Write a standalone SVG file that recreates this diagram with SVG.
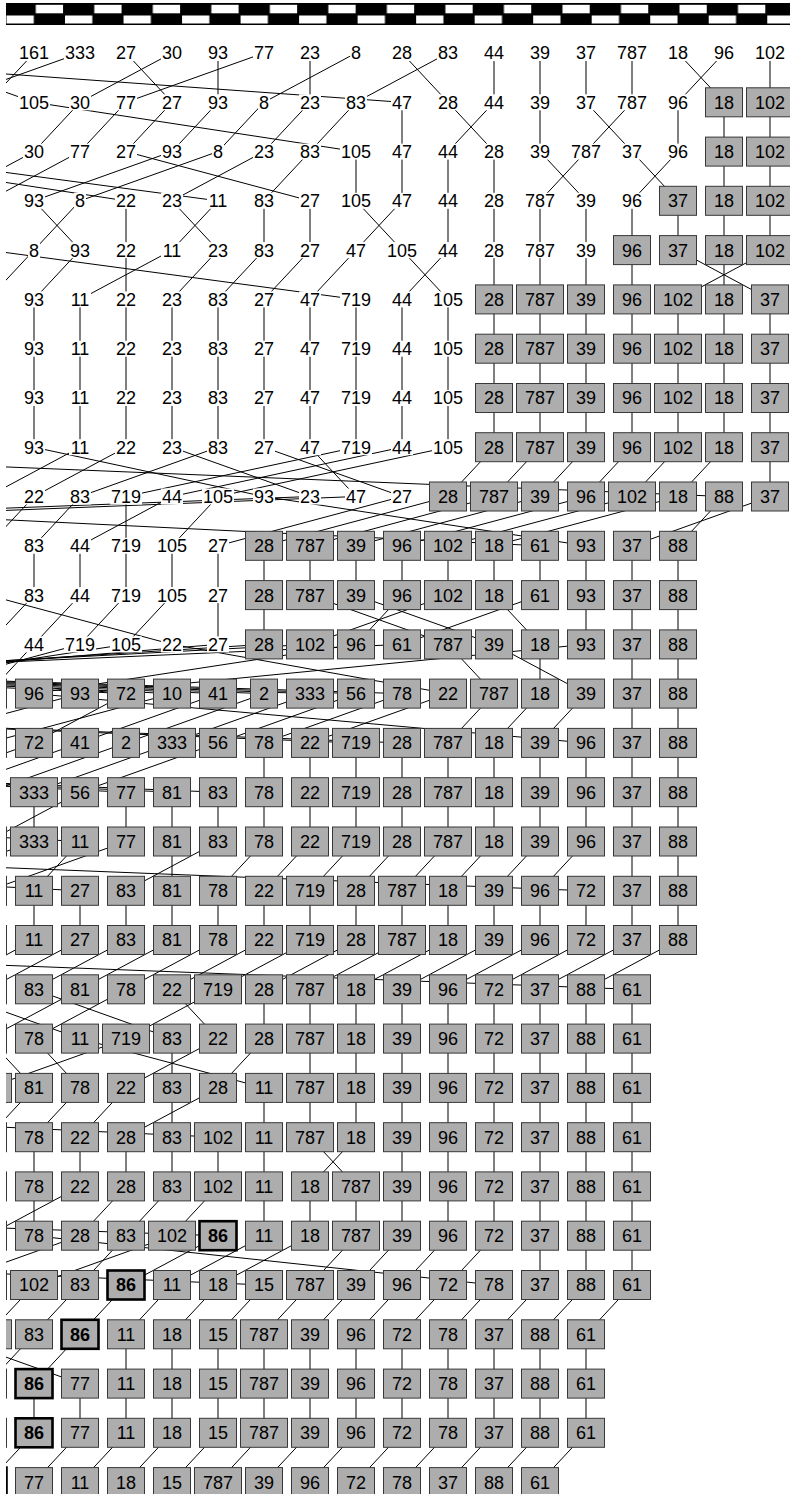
<svg xmlns="http://www.w3.org/2000/svg" xmlns:xlink="http://www.w3.org/1999/xlink" width="790" height="1494" viewBox="0 0 790 1494">
<style>
text{font-family:"Liberation Sans",Arial,sans-serif;font-size:18px;text-anchor:middle;fill:#000}
.n use{fill:#adadad;stroke:#383838;stroke-width:1}
.k use{stroke:#000;stroke-width:2.6}
.k text{font-weight:bold}
.p use{fill:#fff;stroke:none}
#E path{stroke:#000;stroke-width:1;fill:none;vector-effect:non-scaling-stroke}
</style>
<defs>
<rect id="b1" x="-13.5" y="-14.5" width="27" height="29"/>
<rect id="b2" x="-18.5" y="-14.5" width="37" height="29"/>
<rect id="b3" x="-23.5" y="-14.5" width="47" height="29"/>
<rect id="h1" x="-6" y="-8" width="12" height="16"/>
<rect id="h2" x="-11" y="-8" width="22" height="16"/>
<rect id="h3" x="-16" y="-8" width="32" height="16"/>
<clipPath id="clip"><rect x="6" y="0" width="784" height="1494"/></clipPath>
<pattern id="chk" x="5.5" y="0" width="58.52" height="30" patternUnits="userSpaceOnUse"><rect width="58.52" height="30" fill="#000"/><rect x="1" y="15.5" width="27.3" height="8" fill="#fff"/><rect x="30.26" y="4.8" width="27.3" height="8.5" fill="#fff"/></pattern>
</defs>
<rect width="790" height="1494" fill="#fff"/>
<g id="band"><rect x="6" y="3" width="784" height="22" fill="url(#chk)"/></g>
<g clip-path="url(#clip)">
<g id="E" transform="translate(34 53) scale(46 49.28)">
<path d="M0 0L-1 1"/><path d="M1 0L-2 1"/><path d="M2 0L3 1"/><path d="M3 0L1 1"/><path d="M4 0L4 1"/><path d="M5 0L2 1"/><path d="M6 0L6 1"/><path d="M7 0L5 1"/><path d="M8 0L9 1"/><path d="M9 0L7 1"/><path d="M10 0L10 1"/><path d="M11 0L11 1"/><path d="M12 0L12 1"/><path d="M13 0L13 1"/><path d="M14 0L15 1"/><path d="M15 0L14 1"/><path d="M16 0L16 1"/><path d="M-3 0L0 1"/><path d="M-7 0L8 1"/>
<path d="M0 1L7 2"/><path d="M1 1L0 2"/><path d="M2 1L1 2"/><path d="M3 1L2 2"/><path d="M4 1L3 2"/><path d="M5 1L4 2"/><path d="M6 1L5 2"/><path d="M7 1L6 2"/><path d="M8 1L8 2"/><path d="M9 1L10 2"/><path d="M10 1L9 2"/><path d="M11 1L11 2"/><path d="M12 1L13 2"/><path d="M13 1L12 2"/><path d="M14 1L14 2"/><path d="M15 1L15 2"/><path d="M16 1L16 2"/>
<path d="M0 2L-2 3"/><path d="M1 2L-1 3"/><path d="M2 2L6 3"/><path d="M3 2L0 3"/><path d="M4 2L1 3"/><path d="M5 2L3 3"/><path d="M6 2L5 3"/><path d="M7 2L7 3"/><path d="M8 2L8 3"/><path d="M9 2L9 3"/><path d="M10 2L10 3"/><path d="M11 2L12 3"/><path d="M12 2L11 3"/><path d="M13 2L14 3"/><path d="M14 2L13 3"/><path d="M15 2L15 3"/><path d="M16 2L16 3"/><path d="M-5 2L2 3"/><path d="M-4 2L4 3"/>
<path d="M0 3L1 4"/><path d="M1 3L0 4"/><path d="M2 3L2 4"/><path d="M3 3L4 4"/><path d="M4 3L3 4"/><path d="M5 3L5 4"/><path d="M6 3L6 4"/><path d="M7 3L8 4"/><path d="M8 3L7 4"/><path d="M9 3L9 4"/><path d="M10 3L10 4"/><path d="M11 3L11 4"/><path d="M12 3L12 4"/><path d="M13 3L13 4"/><path d="M14 3L14 4"/><path d="M15 3L15 4"/><path d="M16 3L16 4"/>
<path d="M0 4L-1 5"/><path d="M1 4L0 5"/><path d="M2 4L2 5"/><path d="M3 4L1 5"/><path d="M4 4L3 5"/><path d="M5 4L4 5"/><path d="M6 4L5 5"/><path d="M7 4L6 5"/><path d="M8 4L9 5"/><path d="M9 4L8 5"/><path d="M10 4L10 5"/><path d="M11 4L11 5"/><path d="M12 4L12 5"/><path d="M13 4L13 5"/><path d="M14 4L16 5"/><path d="M15 4L15 5"/><path d="M16 4L14 5"/><path d="M-1 4L7 5"/>
<path d="M0 5L0 6"/><path d="M1 5L1 6"/><path d="M2 5L2 6"/><path d="M3 5L3 6"/><path d="M4 5L4 6"/><path d="M5 5L5 6"/><path d="M6 5L6 6"/><path d="M7 5L7 6"/><path d="M8 5L8 6"/><path d="M9 5L9 6"/><path d="M10 5L10 6"/><path d="M11 5L11 6"/><path d="M12 5L12 6"/><path d="M13 5L13 6"/><path d="M14 5L14 6"/><path d="M15 5L15 6"/><path d="M16 5L16 6"/>
<path d="M0 6L0 7"/><path d="M1 6L1 7"/><path d="M2 6L2 7"/><path d="M3 6L3 7"/><path d="M4 6L4 7"/><path d="M5 6L5 7"/><path d="M6 6L6 7"/><path d="M7 6L7 7"/><path d="M8 6L8 7"/><path d="M9 6L9 7"/><path d="M10 6L10 7"/><path d="M11 6L11 7"/><path d="M12 6L12 7"/><path d="M13 6L13 7"/><path d="M14 6L14 7"/><path d="M15 6L15 7"/><path d="M16 6L16 7"/>
<path d="M0 7L0 8"/><path d="M1 7L1 8"/><path d="M2 7L2 8"/><path d="M3 7L3 8"/><path d="M4 7L4 8"/><path d="M5 7L5 8"/><path d="M6 7L6 8"/><path d="M7 7L7 8"/><path d="M8 7L8 8"/><path d="M9 7L9 8"/><path d="M10 7L10 8"/><path d="M11 7L11 8"/><path d="M12 7L12 8"/><path d="M13 7L13 8"/><path d="M14 7L14 8"/><path d="M15 7L15 8"/><path d="M16 7L16 8"/>
<path d="M0 8L5 9"/><path d="M1 8L-1 9"/><path d="M2 8L0 9"/><path d="M3 8L6 9"/><path d="M4 8L1 9"/><path d="M5 8L8 9"/><path d="M6 8L7 9"/><path d="M7 8L2 9"/><path d="M8 8L3 9"/><path d="M9 8L4 9"/><path d="M10 8L9 9"/><path d="M11 8L10 9"/><path d="M12 8L11 9"/><path d="M13 8L12 9"/><path d="M14 8L13 9"/><path d="M15 8L14 9"/><path d="M16 8L16 9"/><path d="M-11 8L15 9"/>
<path d="M0 9L-1 10"/><path d="M1 9L0 10"/><path d="M2 9L2 10"/><path d="M3 9L1 10"/><path d="M4 9L3 10"/><path d="M5 9L12 10"/><path d="M6 9L-22 10"/><path d="M7 9L-20 10"/><path d="M8 9L4 10"/><path d="M9 9L5 10"/><path d="M10 9L6 10"/><path d="M11 9L7 10"/><path d="M12 9L8 10"/><path d="M13 9L9 10"/><path d="M14 9L10 10"/><path d="M15 9L14 10"/><path d="M16 9L13 10"/><path d="M-11 9L11 10"/>
<path d="M0 10L0 11"/><path d="M1 10L1 11"/><path d="M2 10L2 11"/><path d="M3 10L3 11"/><path d="M4 10L4 11"/><path d="M5 10L5 11"/><path d="M6 10L6 11"/><path d="M7 10L7 11"/><path d="M8 10L8 11"/><path d="M9 10L9 11"/><path d="M10 10L10 11"/><path d="M11 10L11 11"/><path d="M12 10L12 11"/><path d="M13 10L13 11"/><path d="M14 10L14 11"/>
<path d="M0 11L-1 12"/><path d="M1 11L0 12"/><path d="M2 11L1 12"/><path d="M3 11L2 12"/><path d="M-1 11L3 12"/><path d="M4 11L4 12"/><path d="M5 11L5 12"/><path d="M6 11L9 12"/><path d="M7 11L10 12"/><path d="M8 11L7 12"/><path d="M9 11L6 12"/><path d="M10 11L11 12"/><path d="M11 11L8 12"/><path d="M12 11L12 12"/><path d="M13 11L13 12"/><path d="M14 11L14 12"/>
<path d="M7 12L0 13"/><path d="M12 12L1 13"/><path d="M3 12L9 13"/><path d="M9 12L10 13"/><path d="M11 12L11 13"/><path d="M10 12L12 13"/><path d="M13 12L13 13"/><path d="M14 12L14 13"/><path d="M0 12L-1 13"/><path d="M1 12L-3 13"/><path d="M2 12L-5 13"/><path d="M4 12L-9 13"/><path d="M5 12L-12 13"/><path d="M6 12L-14 13"/><path d="M8 12L-16 13"/><path d="M-20 12L2 13"/><path d="M-21 12L3 13"/><path d="M-22 12L4 13"/><path d="M-23 12L5 13"/><path d="M-24 12L6 13"/><path d="M-25 12L7 13"/><path d="M-26 12L8 13"/>
<path d="M0 13L12 14"/><path d="M1 13L-3 14"/><path d="M2 13L0 14"/><path d="M3 13L-1 14"/><path d="M4 13L1 14"/><path d="M5 13L2 14"/><path d="M6 13L3 14"/><path d="M7 13L4 14"/><path d="M8 13L5 14"/><path d="M9 13L6 14"/><path d="M10 13L9 14"/><path d="M11 13L10 14"/><path d="M12 13L11 14"/><path d="M13 13L13 14"/><path d="M14 13L14 14"/><path d="M-20 13L7 14"/><path d="M-21 13L8 14"/>
<path d="M0 14L-3 15"/><path d="M1 14L-2 15"/><path d="M2 14L-1 15"/><path d="M3 14L0 15"/><path d="M4 14L1 15"/><path d="M5 14L5 15"/><path d="M6 14L6 15"/><path d="M7 14L7 15"/><path d="M8 14L8 15"/><path d="M9 14L9 15"/><path d="M10 14L10 15"/><path d="M11 14L11 15"/><path d="M12 14L12 15"/><path d="M13 14L13 15"/><path d="M14 14L14 15"/><path d="M-20 14L2 15"/><path d="M-21 14L3 15"/><path d="M-22 14L4 15"/>
<path d="M0 15L0 16"/><path d="M1 15L-1 16"/><path d="M2 15L2 16"/><path d="M3 15L3 16"/><path d="M4 15L4 16"/><path d="M5 15L5 16"/><path d="M6 15L6 16"/><path d="M7 15L7 16"/><path d="M8 15L8 16"/><path d="M9 15L9 16"/><path d="M10 15L10 16"/><path d="M11 15L11 16"/><path d="M12 15L12 16"/><path d="M13 15L13 16"/><path d="M14 15L14 16"/><path d="M-20 15L1 16"/>
<path d="M0 16L-3 17"/><path d="M1 16L0 17"/><path d="M2 16L-1 17"/><path d="M3 16L3 17"/><path d="M4 16L2 17"/><path d="M5 16L4 17"/><path d="M6 16L5 17"/><path d="M7 16L6 17"/><path d="M8 16L7 17"/><path d="M9 16L8 17"/><path d="M10 16L9 17"/><path d="M11 16L10 17"/><path d="M12 16L11 17"/><path d="M13 16L13 17"/><path d="M14 16L14 17"/><path d="M-20 16L1 17"/><path d="M-15 16L12 17"/>
<path d="M0 17L0 18"/><path d="M1 17L1 18"/><path d="M2 17L2 18"/><path d="M3 17L3 18"/><path d="M4 17L4 18"/><path d="M5 17L5 18"/><path d="M6 17L6 18"/><path d="M7 17L7 18"/><path d="M8 17L8 18"/><path d="M9 17L9 18"/><path d="M10 17L10 18"/><path d="M11 17L11 18"/><path d="M12 17L12 18"/><path d="M13 17L13 18"/><path d="M14 17L14 18"/>
<path d="M0 18L-2 19"/><path d="M1 18L-1 19"/><path d="M2 18L0 19"/><path d="M3 18L1 19"/><path d="M4 18L2 19"/><path d="M5 18L3 19"/><path d="M6 18L4 19"/><path d="M7 18L5 19"/><path d="M8 18L6 19"/><path d="M9 18L7 19"/><path d="M10 18L8 19"/><path d="M11 18L9 19"/><path d="M12 18L10 19"/><path d="M13 18L11 19"/><path d="M14 18L12 19"/><path d="M-15 18L13 19"/>
<path d="M0 19L3 20"/><path d="M1 19L-1 20"/><path d="M2 19L0 20"/><path d="M3 19L4 20"/><path d="M4 19L2 20"/><path d="M5 19L5 20"/><path d="M6 19L6 20"/><path d="M7 19L7 20"/><path d="M8 19L8 20"/><path d="M9 19L9 20"/><path d="M10 19L10 20"/><path d="M11 19L11 20"/><path d="M12 19L12 20"/><path d="M13 19L13 20"/><path d="M-2 19L1 20"/>
<path d="M0 20L1 21"/><path d="M1 20L5 21"/><path d="M2 20L-1 21"/><path d="M3 20L3 21"/><path d="M4 20L2 21"/><path d="M5 20L4 21"/><path d="M6 20L6 21"/><path d="M7 20L7 21"/><path d="M8 20L8 21"/><path d="M9 20L9 21"/><path d="M10 20L10 21"/><path d="M11 20L11 21"/><path d="M12 20L12 21"/><path d="M13 20L13 21"/><path d="M-1 20L0 21"/>
<path d="M0 21L-1 22"/><path d="M1 21L0 22"/><path d="M2 21L1 22"/><path d="M3 21L3 22"/><path d="M4 21L2 22"/><path d="M5 21L5 22"/><path d="M6 21L6 22"/><path d="M7 21L7 22"/><path d="M8 21L8 22"/><path d="M9 21L9 22"/><path d="M10 21L10 22"/><path d="M11 21L11 22"/><path d="M12 21L12 22"/><path d="M13 21L13 22"/><path d="M-19 21L4 22"/>
<path d="M0 22L0 23"/><path d="M1 22L1 23"/><path d="M2 22L2 23"/><path d="M3 22L3 23"/><path d="M4 22L4 23"/><path d="M5 22L5 23"/><path d="M6 22L7 23"/><path d="M7 22L6 23"/><path d="M8 22L8 23"/><path d="M9 22L9 23"/><path d="M10 22L10 23"/><path d="M11 22L11 23"/><path d="M12 22L12 23"/><path d="M13 22L13 23"/>
<path d="M0 23L0 24"/><path d="M1 23L-1 24"/><path d="M2 23L1 24"/><path d="M3 23L2 24"/><path d="M4 23L3 24"/><path d="M5 23L5 24"/><path d="M6 23L6 24"/><path d="M7 23L7 24"/><path d="M8 23L8 24"/><path d="M9 23L9 24"/><path d="M10 23L10 24"/><path d="M11 23L11 24"/><path d="M12 23L12 24"/><path d="M13 23L13 24"/><path d="M-26 23L4 24"/>
<path d="M0 24L10 25"/><path d="M1 24L-2 25"/><path d="M2 24L1 25"/><path d="M3 24L0 25"/><path d="M4 24L2 25"/><path d="M5 24L3 25"/><path d="M6 24L4 25"/><path d="M7 24L6 25"/><path d="M8 24L7 25"/><path d="M9 24L8 25"/><path d="M10 24L9 25"/><path d="M11 24L11 25"/><path d="M12 24L12 25"/><path d="M13 24L13 25"/><path d="M-20 24L5 25"/>
<path d="M0 25L-1 26"/><path d="M1 25L0 26"/><path d="M2 25L1 26"/><path d="M3 25L2 26"/><path d="M4 25L3 26"/><path d="M5 25L4 26"/><path d="M6 25L5 26"/><path d="M7 25L6 26"/><path d="M8 25L7 26"/><path d="M9 25L8 26"/><path d="M10 25L9 26"/><path d="M11 25L10 26"/><path d="M12 25L11 26"/><path d="M13 25L12 26"/>
<path d="M0 26L-1 27"/><path d="M1 26L0 27"/><path d="M2 26L2 27"/><path d="M3 26L3 27"/><path d="M4 26L4 27"/><path d="M5 26L5 27"/><path d="M6 26L6 27"/><path d="M7 26L7 27"/><path d="M8 26L8 27"/><path d="M9 26L9 27"/><path d="M10 26L10 27"/><path d="M11 26L11 27"/><path d="M12 26L12 27"/><path d="M-2 26L1 27"/>
<path d="M0 27L0 28"/><path d="M1 27L1 28"/><path d="M2 27L2 28"/><path d="M3 27L3 28"/><path d="M4 27L4 28"/><path d="M5 27L5 28"/><path d="M6 27L6 28"/><path d="M7 27L7 28"/><path d="M8 27L8 28"/><path d="M9 27L9 28"/><path d="M10 27L10 28"/><path d="M11 27L11 28"/><path d="M12 27L12 28"/>
<path d="M0 28L-1 29"/><path d="M1 28L0 29"/><path d="M2 28L1 29"/><path d="M3 28L2 29"/><path d="M4 28L3 29"/><path d="M5 28L4 29"/><path d="M6 28L5 29"/><path d="M7 28L6 29"/><path d="M8 28L7 29"/><path d="M9 28L8 29"/><path d="M10 28L9 29"/><path d="M11 28L10 29"/><path d="M12 28L11 29"/>
</g>
</g>
<g id="nodes" clip-path="url(#clip)">
<g id="r0c0" class="p" transform="translate(34 53)"><use href="#h3"/><text y="6.4">161</text></g>
<g id="r0c1" class="p" transform="translate(80 53)"><use href="#h3"/><text y="6.4">333</text></g>
<g id="r0c2" class="p" transform="translate(126 53)"><use href="#h2"/><text y="6.4">27</text></g>
<g id="r0c3" class="p" transform="translate(172 53)"><use href="#h2"/><text y="6.4">30</text></g>
<g id="r0c4" class="p" transform="translate(218 53)"><use href="#h2"/><text y="6.4">93</text></g>
<g id="r0c5" class="p" transform="translate(264 53)"><use href="#h2"/><text y="6.4">77</text></g>
<g id="r0c6" class="p" transform="translate(310 53)"><use href="#h2"/><text y="6.4">23</text></g>
<g id="r0c7" class="p" transform="translate(356 53)"><use href="#h1"/><text y="6.4">8</text></g>
<g id="r0c8" class="p" transform="translate(402 53)"><use href="#h2"/><text y="6.4">28</text></g>
<g id="r0c9" class="p" transform="translate(448 53)"><use href="#h2"/><text y="6.4">83</text></g>
<g id="r0c10" class="p" transform="translate(494 53)"><use href="#h2"/><text y="6.4">44</text></g>
<g id="r0c11" class="p" transform="translate(540 53)"><use href="#h2"/><text y="6.4">39</text></g>
<g id="r0c12" class="p" transform="translate(586 53)"><use href="#h2"/><text y="6.4">37</text></g>
<g id="r0c13" class="p" transform="translate(632 53)"><use href="#h3"/><text y="6.4">787</text></g>
<g id="r0c14" class="p" transform="translate(678 53)"><use href="#h2"/><text y="6.4">18</text></g>
<g id="r0c15" class="p" transform="translate(724 53)"><use href="#h2"/><text y="6.4">96</text></g>
<g id="r0c16" class="p" transform="translate(770 53)"><use href="#h3"/><text y="6.4">102</text></g>
<g id="r1c0" class="p" transform="translate(34 102.3)"><use href="#h3"/><text y="6.4">105</text></g>
<g id="r1c1" class="p" transform="translate(80 102.3)"><use href="#h2"/><text y="6.4">30</text></g>
<g id="r1c2" class="p" transform="translate(126 102.3)"><use href="#h2"/><text y="6.4">77</text></g>
<g id="r1c3" class="p" transform="translate(172 102.3)"><use href="#h2"/><text y="6.4">27</text></g>
<g id="r1c4" class="p" transform="translate(218 102.3)"><use href="#h2"/><text y="6.4">93</text></g>
<g id="r1c5" class="p" transform="translate(264 102.3)"><use href="#h1"/><text y="6.4">8</text></g>
<g id="r1c6" class="p" transform="translate(310 102.3)"><use href="#h2"/><text y="6.4">23</text></g>
<g id="r1c7" class="p" transform="translate(356 102.3)"><use href="#h2"/><text y="6.4">83</text></g>
<g id="r1c8" class="p" transform="translate(402 102.3)"><use href="#h2"/><text y="6.4">47</text></g>
<g id="r1c9" class="p" transform="translate(448 102.3)"><use href="#h2"/><text y="6.4">28</text></g>
<g id="r1c10" class="p" transform="translate(494 102.3)"><use href="#h2"/><text y="6.4">44</text></g>
<g id="r1c11" class="p" transform="translate(540 102.3)"><use href="#h2"/><text y="6.4">39</text></g>
<g id="r1c12" class="p" transform="translate(586 102.3)"><use href="#h2"/><text y="6.4">37</text></g>
<g id="r1c13" class="p" transform="translate(632 102.3)"><use href="#h3"/><text y="6.4">787</text></g>
<g id="r1c14" class="p" transform="translate(678 102.3)"><use href="#h2"/><text y="6.4">96</text></g>
<g id="r1c15" class="n" transform="translate(724 102.3)"><use href="#b2"/><text y="6.4">18</text></g>
<g id="r1c16" class="n" transform="translate(770 102.3)"><use href="#b3"/><text y="6.4">102</text></g>
<g id="r2c0" class="p" transform="translate(34 151.6)"><use href="#h2"/><text y="6.4">30</text></g>
<g id="r2c1" class="p" transform="translate(80 151.6)"><use href="#h2"/><text y="6.4">77</text></g>
<g id="r2c2" class="p" transform="translate(126 151.6)"><use href="#h2"/><text y="6.4">27</text></g>
<g id="r2c3" class="p" transform="translate(172 151.6)"><use href="#h2"/><text y="6.4">93</text></g>
<g id="r2c4" class="p" transform="translate(218 151.6)"><use href="#h1"/><text y="6.4">8</text></g>
<g id="r2c5" class="p" transform="translate(264 151.6)"><use href="#h2"/><text y="6.4">23</text></g>
<g id="r2c6" class="p" transform="translate(310 151.6)"><use href="#h2"/><text y="6.4">83</text></g>
<g id="r2c7" class="p" transform="translate(356 151.6)"><use href="#h3"/><text y="6.4">105</text></g>
<g id="r2c8" class="p" transform="translate(402 151.6)"><use href="#h2"/><text y="6.4">47</text></g>
<g id="r2c9" class="p" transform="translate(448 151.6)"><use href="#h2"/><text y="6.4">44</text></g>
<g id="r2c10" class="p" transform="translate(494 151.6)"><use href="#h2"/><text y="6.4">28</text></g>
<g id="r2c11" class="p" transform="translate(540 151.6)"><use href="#h2"/><text y="6.4">39</text></g>
<g id="r2c12" class="p" transform="translate(586 151.6)"><use href="#h3"/><text y="6.4">787</text></g>
<g id="r2c13" class="p" transform="translate(632 151.6)"><use href="#h2"/><text y="6.4">37</text></g>
<g id="r2c14" class="p" transform="translate(678 151.6)"><use href="#h2"/><text y="6.4">96</text></g>
<g id="r2c15" class="n" transform="translate(724 151.6)"><use href="#b2"/><text y="6.4">18</text></g>
<g id="r2c16" class="n" transform="translate(770 151.6)"><use href="#b3"/><text y="6.4">102</text></g>
<g id="r3c0" class="p" transform="translate(34 200.8)"><use href="#h2"/><text y="6.4">93</text></g>
<g id="r3c1" class="p" transform="translate(80 200.8)"><use href="#h1"/><text y="6.4">8</text></g>
<g id="r3c2" class="p" transform="translate(126 200.8)"><use href="#h2"/><text y="6.4">22</text></g>
<g id="r3c3" class="p" transform="translate(172 200.8)"><use href="#h2"/><text y="6.4">23</text></g>
<g id="r3c4" class="p" transform="translate(218 200.8)"><use href="#h2"/><text y="6.4">11</text></g>
<g id="r3c5" class="p" transform="translate(264 200.8)"><use href="#h2"/><text y="6.4">83</text></g>
<g id="r3c6" class="p" transform="translate(310 200.8)"><use href="#h2"/><text y="6.4">27</text></g>
<g id="r3c7" class="p" transform="translate(356 200.8)"><use href="#h3"/><text y="6.4">105</text></g>
<g id="r3c8" class="p" transform="translate(402 200.8)"><use href="#h2"/><text y="6.4">47</text></g>
<g id="r3c9" class="p" transform="translate(448 200.8)"><use href="#h2"/><text y="6.4">44</text></g>
<g id="r3c10" class="p" transform="translate(494 200.8)"><use href="#h2"/><text y="6.4">28</text></g>
<g id="r3c11" class="p" transform="translate(540 200.8)"><use href="#h3"/><text y="6.4">787</text></g>
<g id="r3c12" class="p" transform="translate(586 200.8)"><use href="#h2"/><text y="6.4">39</text></g>
<g id="r3c13" class="p" transform="translate(632 200.8)"><use href="#h2"/><text y="6.4">96</text></g>
<g id="r3c14" class="n" transform="translate(678 200.8)"><use href="#b2"/><text y="6.4">37</text></g>
<g id="r3c15" class="n" transform="translate(724 200.8)"><use href="#b2"/><text y="6.4">18</text></g>
<g id="r3c16" class="n" transform="translate(770 200.8)"><use href="#b3"/><text y="6.4">102</text></g>
<g id="r4c0" class="p" transform="translate(34 250.1)"><use href="#h1"/><text y="6.4">8</text></g>
<g id="r4c1" class="p" transform="translate(80 250.1)"><use href="#h2"/><text y="6.4">93</text></g>
<g id="r4c2" class="p" transform="translate(126 250.1)"><use href="#h2"/><text y="6.4">22</text></g>
<g id="r4c3" class="p" transform="translate(172 250.1)"><use href="#h2"/><text y="6.4">11</text></g>
<g id="r4c4" class="p" transform="translate(218 250.1)"><use href="#h2"/><text y="6.4">23</text></g>
<g id="r4c5" class="p" transform="translate(264 250.1)"><use href="#h2"/><text y="6.4">83</text></g>
<g id="r4c6" class="p" transform="translate(310 250.1)"><use href="#h2"/><text y="6.4">27</text></g>
<g id="r4c7" class="p" transform="translate(356 250.1)"><use href="#h2"/><text y="6.4">47</text></g>
<g id="r4c8" class="p" transform="translate(402 250.1)"><use href="#h3"/><text y="6.4">105</text></g>
<g id="r4c9" class="p" transform="translate(448 250.1)"><use href="#h2"/><text y="6.4">44</text></g>
<g id="r4c10" class="p" transform="translate(494 250.1)"><use href="#h2"/><text y="6.4">28</text></g>
<g id="r4c11" class="p" transform="translate(540 250.1)"><use href="#h3"/><text y="6.4">787</text></g>
<g id="r4c12" class="p" transform="translate(586 250.1)"><use href="#h2"/><text y="6.4">39</text></g>
<g id="r4c13" class="n" transform="translate(632 250.1)"><use href="#b2"/><text y="6.4">96</text></g>
<g id="r4c14" class="n" transform="translate(678 250.1)"><use href="#b2"/><text y="6.4">37</text></g>
<g id="r4c15" class="n" transform="translate(724 250.1)"><use href="#b2"/><text y="6.4">18</text></g>
<g id="r4c16" class="n" transform="translate(770 250.1)"><use href="#b3"/><text y="6.4">102</text></g>
<g id="r5c0" class="p" transform="translate(34 299.4)"><use href="#h2"/><text y="6.4">93</text></g>
<g id="r5c1" class="p" transform="translate(80 299.4)"><use href="#h2"/><text y="6.4">11</text></g>
<g id="r5c2" class="p" transform="translate(126 299.4)"><use href="#h2"/><text y="6.4">22</text></g>
<g id="r5c3" class="p" transform="translate(172 299.4)"><use href="#h2"/><text y="6.4">23</text></g>
<g id="r5c4" class="p" transform="translate(218 299.4)"><use href="#h2"/><text y="6.4">83</text></g>
<g id="r5c5" class="p" transform="translate(264 299.4)"><use href="#h2"/><text y="6.4">27</text></g>
<g id="r5c6" class="p" transform="translate(310 299.4)"><use href="#h2"/><text y="6.4">47</text></g>
<g id="r5c7" class="p" transform="translate(356 299.4)"><use href="#h3"/><text y="6.4">719</text></g>
<g id="r5c8" class="p" transform="translate(402 299.4)"><use href="#h2"/><text y="6.4">44</text></g>
<g id="r5c9" class="p" transform="translate(448 299.4)"><use href="#h3"/><text y="6.4">105</text></g>
<g id="r5c10" class="n" transform="translate(494 299.4)"><use href="#b2"/><text y="6.4">28</text></g>
<g id="r5c11" class="n" transform="translate(540 299.4)"><use href="#b3"/><text y="6.4">787</text></g>
<g id="r5c12" class="n" transform="translate(586 299.4)"><use href="#b2"/><text y="6.4">39</text></g>
<g id="r5c13" class="n" transform="translate(632 299.4)"><use href="#b2"/><text y="6.4">96</text></g>
<g id="r5c14" class="n" transform="translate(678 299.4)"><use href="#b3"/><text y="6.4">102</text></g>
<g id="r5c15" class="n" transform="translate(724 299.4)"><use href="#b2"/><text y="6.4">18</text></g>
<g id="r5c16" class="n" transform="translate(770 299.4)"><use href="#b2"/><text y="6.4">37</text></g>
<g id="r6c0" class="p" transform="translate(34 348.7)"><use href="#h2"/><text y="6.4">93</text></g>
<g id="r6c1" class="p" transform="translate(80 348.7)"><use href="#h2"/><text y="6.4">11</text></g>
<g id="r6c2" class="p" transform="translate(126 348.7)"><use href="#h2"/><text y="6.4">22</text></g>
<g id="r6c3" class="p" transform="translate(172 348.7)"><use href="#h2"/><text y="6.4">23</text></g>
<g id="r6c4" class="p" transform="translate(218 348.7)"><use href="#h2"/><text y="6.4">83</text></g>
<g id="r6c5" class="p" transform="translate(264 348.7)"><use href="#h2"/><text y="6.4">27</text></g>
<g id="r6c6" class="p" transform="translate(310 348.7)"><use href="#h2"/><text y="6.4">47</text></g>
<g id="r6c7" class="p" transform="translate(356 348.7)"><use href="#h3"/><text y="6.4">719</text></g>
<g id="r6c8" class="p" transform="translate(402 348.7)"><use href="#h2"/><text y="6.4">44</text></g>
<g id="r6c9" class="p" transform="translate(448 348.7)"><use href="#h3"/><text y="6.4">105</text></g>
<g id="r6c10" class="n" transform="translate(494 348.7)"><use href="#b2"/><text y="6.4">28</text></g>
<g id="r6c11" class="n" transform="translate(540 348.7)"><use href="#b3"/><text y="6.4">787</text></g>
<g id="r6c12" class="n" transform="translate(586 348.7)"><use href="#b2"/><text y="6.4">39</text></g>
<g id="r6c13" class="n" transform="translate(632 348.7)"><use href="#b2"/><text y="6.4">96</text></g>
<g id="r6c14" class="n" transform="translate(678 348.7)"><use href="#b3"/><text y="6.4">102</text></g>
<g id="r6c15" class="n" transform="translate(724 348.7)"><use href="#b2"/><text y="6.4">18</text></g>
<g id="r6c16" class="n" transform="translate(770 348.7)"><use href="#b2"/><text y="6.4">37</text></g>
<g id="r7c0" class="p" transform="translate(34 398)"><use href="#h2"/><text y="6.4">93</text></g>
<g id="r7c1" class="p" transform="translate(80 398)"><use href="#h2"/><text y="6.4">11</text></g>
<g id="r7c2" class="p" transform="translate(126 398)"><use href="#h2"/><text y="6.4">22</text></g>
<g id="r7c3" class="p" transform="translate(172 398)"><use href="#h2"/><text y="6.4">23</text></g>
<g id="r7c4" class="p" transform="translate(218 398)"><use href="#h2"/><text y="6.4">83</text></g>
<g id="r7c5" class="p" transform="translate(264 398)"><use href="#h2"/><text y="6.4">27</text></g>
<g id="r7c6" class="p" transform="translate(310 398)"><use href="#h2"/><text y="6.4">47</text></g>
<g id="r7c7" class="p" transform="translate(356 398)"><use href="#h3"/><text y="6.4">719</text></g>
<g id="r7c8" class="p" transform="translate(402 398)"><use href="#h2"/><text y="6.4">44</text></g>
<g id="r7c9" class="p" transform="translate(448 398)"><use href="#h3"/><text y="6.4">105</text></g>
<g id="r7c10" class="n" transform="translate(494 398)"><use href="#b2"/><text y="6.4">28</text></g>
<g id="r7c11" class="n" transform="translate(540 398)"><use href="#b3"/><text y="6.4">787</text></g>
<g id="r7c12" class="n" transform="translate(586 398)"><use href="#b2"/><text y="6.4">39</text></g>
<g id="r7c13" class="n" transform="translate(632 398)"><use href="#b2"/><text y="6.4">96</text></g>
<g id="r7c14" class="n" transform="translate(678 398)"><use href="#b3"/><text y="6.4">102</text></g>
<g id="r7c15" class="n" transform="translate(724 398)"><use href="#b2"/><text y="6.4">18</text></g>
<g id="r7c16" class="n" transform="translate(770 398)"><use href="#b2"/><text y="6.4">37</text></g>
<g id="r8c0" class="p" transform="translate(34 447.2)"><use href="#h2"/><text y="6.4">93</text></g>
<g id="r8c1" class="p" transform="translate(80 447.2)"><use href="#h2"/><text y="6.4">11</text></g>
<g id="r8c2" class="p" transform="translate(126 447.2)"><use href="#h2"/><text y="6.4">22</text></g>
<g id="r8c3" class="p" transform="translate(172 447.2)"><use href="#h2"/><text y="6.4">23</text></g>
<g id="r8c4" class="p" transform="translate(218 447.2)"><use href="#h2"/><text y="6.4">83</text></g>
<g id="r8c5" class="p" transform="translate(264 447.2)"><use href="#h2"/><text y="6.4">27</text></g>
<g id="r8c6" class="p" transform="translate(310 447.2)"><use href="#h2"/><text y="6.4">47</text></g>
<g id="r8c7" class="p" transform="translate(356 447.2)"><use href="#h3"/><text y="6.4">719</text></g>
<g id="r8c8" class="p" transform="translate(402 447.2)"><use href="#h2"/><text y="6.4">44</text></g>
<g id="r8c9" class="p" transform="translate(448 447.2)"><use href="#h3"/><text y="6.4">105</text></g>
<g id="r8c10" class="n" transform="translate(494 447.2)"><use href="#b2"/><text y="6.4">28</text></g>
<g id="r8c11" class="n" transform="translate(540 447.2)"><use href="#b3"/><text y="6.4">787</text></g>
<g id="r8c12" class="n" transform="translate(586 447.2)"><use href="#b2"/><text y="6.4">39</text></g>
<g id="r8c13" class="n" transform="translate(632 447.2)"><use href="#b2"/><text y="6.4">96</text></g>
<g id="r8c14" class="n" transform="translate(678 447.2)"><use href="#b3"/><text y="6.4">102</text></g>
<g id="r8c15" class="n" transform="translate(724 447.2)"><use href="#b2"/><text y="6.4">18</text></g>
<g id="r8c16" class="n" transform="translate(770 447.2)"><use href="#b2"/><text y="6.4">37</text></g>
<g id="r9c0" class="p" transform="translate(34 496.5)"><use href="#h2"/><text y="6.4">22</text></g>
<g id="r9c1" class="p" transform="translate(80 496.5)"><use href="#h2"/><text y="6.4">83</text></g>
<g id="r9c2" class="p" transform="translate(126 496.5)"><use href="#h3"/><text y="6.4">719</text></g>
<g id="r9c3" class="p" transform="translate(172 496.5)"><use href="#h2"/><text y="6.4">44</text></g>
<g id="r9c4" class="p" transform="translate(218 496.5)"><use href="#h3"/><text y="6.4">105</text></g>
<g id="r9c5" class="p" transform="translate(264 496.5)"><use href="#h2"/><text y="6.4">93</text></g>
<g id="r9c6" class="p" transform="translate(310 496.5)"><use href="#h2"/><text y="6.4">23</text></g>
<g id="r9c7" class="p" transform="translate(356 496.5)"><use href="#h2"/><text y="6.4">47</text></g>
<g id="r9c8" class="p" transform="translate(402 496.5)"><use href="#h2"/><text y="6.4">27</text></g>
<g id="r9c9" class="n" transform="translate(448 496.5)"><use href="#b2"/><text y="6.4">28</text></g>
<g id="r9c10" class="n" transform="translate(494 496.5)"><use href="#b3"/><text y="6.4">787</text></g>
<g id="r9c11" class="n" transform="translate(540 496.5)"><use href="#b2"/><text y="6.4">39</text></g>
<g id="r9c12" class="n" transform="translate(586 496.5)"><use href="#b2"/><text y="6.4">96</text></g>
<g id="r9c13" class="n" transform="translate(632 496.5)"><use href="#b3"/><text y="6.4">102</text></g>
<g id="r9c14" class="n" transform="translate(678 496.5)"><use href="#b2"/><text y="6.4">18</text></g>
<g id="r9c15" class="n" transform="translate(724 496.5)"><use href="#b2"/><text y="6.4">88</text></g>
<g id="r9c16" class="n" transform="translate(770 496.5)"><use href="#b2"/><text y="6.4">37</text></g>
<g id="r10c0" class="p" transform="translate(34 545.8)"><use href="#h2"/><text y="6.4">83</text></g>
<g id="r10c1" class="p" transform="translate(80 545.8)"><use href="#h2"/><text y="6.4">44</text></g>
<g id="r10c2" class="p" transform="translate(126 545.8)"><use href="#h3"/><text y="6.4">719</text></g>
<g id="r10c3" class="p" transform="translate(172 545.8)"><use href="#h3"/><text y="6.4">105</text></g>
<g id="r10c4" class="p" transform="translate(218 545.8)"><use href="#h2"/><text y="6.4">27</text></g>
<g id="r10c5" class="n" transform="translate(264 545.8)"><use href="#b2"/><text y="6.4">28</text></g>
<g id="r10c6" class="n" transform="translate(310 545.8)"><use href="#b3"/><text y="6.4">787</text></g>
<g id="r10c7" class="n" transform="translate(356 545.8)"><use href="#b2"/><text y="6.4">39</text></g>
<g id="r10c8" class="n" transform="translate(402 545.8)"><use href="#b2"/><text y="6.4">96</text></g>
<g id="r10c9" class="n" transform="translate(448 545.8)"><use href="#b3"/><text y="6.4">102</text></g>
<g id="r10c10" class="n" transform="translate(494 545.8)"><use href="#b2"/><text y="6.4">18</text></g>
<g id="r10c11" class="n" transform="translate(540 545.8)"><use href="#b2"/><text y="6.4">61</text></g>
<g id="r10c12" class="n" transform="translate(586 545.8)"><use href="#b2"/><text y="6.4">93</text></g>
<g id="r10c13" class="n" transform="translate(632 545.8)"><use href="#b2"/><text y="6.4">37</text></g>
<g id="r10c14" class="n" transform="translate(678 545.8)"><use href="#b2"/><text y="6.4">88</text></g>
<g id="r11c0" class="p" transform="translate(34 595.1)"><use href="#h2"/><text y="6.4">83</text></g>
<g id="r11c1" class="p" transform="translate(80 595.1)"><use href="#h2"/><text y="6.4">44</text></g>
<g id="r11c2" class="p" transform="translate(126 595.1)"><use href="#h3"/><text y="6.4">719</text></g>
<g id="r11c3" class="p" transform="translate(172 595.1)"><use href="#h3"/><text y="6.4">105</text></g>
<g id="r11c4" class="p" transform="translate(218 595.1)"><use href="#h2"/><text y="6.4">27</text></g>
<g id="r11c5" class="n" transform="translate(264 595.1)"><use href="#b2"/><text y="6.4">28</text></g>
<g id="r11c6" class="n" transform="translate(310 595.1)"><use href="#b3"/><text y="6.4">787</text></g>
<g id="r11c7" class="n" transform="translate(356 595.1)"><use href="#b2"/><text y="6.4">39</text></g>
<g id="r11c8" class="n" transform="translate(402 595.1)"><use href="#b2"/><text y="6.4">96</text></g>
<g id="r11c9" class="n" transform="translate(448 595.1)"><use href="#b3"/><text y="6.4">102</text></g>
<g id="r11c10" class="n" transform="translate(494 595.1)"><use href="#b2"/><text y="6.4">18</text></g>
<g id="r11c11" class="n" transform="translate(540 595.1)"><use href="#b2"/><text y="6.4">61</text></g>
<g id="r11c12" class="n" transform="translate(586 595.1)"><use href="#b2"/><text y="6.4">93</text></g>
<g id="r11c13" class="n" transform="translate(632 595.1)"><use href="#b2"/><text y="6.4">37</text></g>
<g id="r11c14" class="n" transform="translate(678 595.1)"><use href="#b2"/><text y="6.4">88</text></g>
<g id="r12c0" class="p" transform="translate(34 644.4)"><use href="#h2"/><text y="6.4">44</text></g>
<g id="r12c1" class="p" transform="translate(80 644.4)"><use href="#h3"/><text y="6.4">719</text></g>
<g id="r12c2" class="p" transform="translate(126 644.4)"><use href="#h3"/><text y="6.4">105</text></g>
<g id="r12c3" class="p" transform="translate(172 644.4)"><use href="#h2"/><text y="6.4">22</text></g>
<g id="r12c4" class="p" transform="translate(218 644.4)"><use href="#h2"/><text y="6.4">27</text></g>
<g id="r12c5" class="n" transform="translate(264 644.4)"><use href="#b2"/><text y="6.4">28</text></g>
<g id="r12c6" class="n" transform="translate(310 644.4)"><use href="#b3"/><text y="6.4">102</text></g>
<g id="r12c7" class="n" transform="translate(356 644.4)"><use href="#b2"/><text y="6.4">96</text></g>
<g id="r12c8" class="n" transform="translate(402 644.4)"><use href="#b2"/><text y="6.4">61</text></g>
<g id="r12c9" class="n" transform="translate(448 644.4)"><use href="#b3"/><text y="6.4">787</text></g>
<g id="r12c10" class="n" transform="translate(494 644.4)"><use href="#b2"/><text y="6.4">39</text></g>
<g id="r12c11" class="n" transform="translate(540 644.4)"><use href="#b2"/><text y="6.4">18</text></g>
<g id="r12c12" class="n" transform="translate(586 644.4)"><use href="#b2"/><text y="6.4">93</text></g>
<g id="r12c13" class="n" transform="translate(632 644.4)"><use href="#b2"/><text y="6.4">37</text></g>
<g id="r12c14" class="n" transform="translate(678 644.4)"><use href="#b2"/><text y="6.4">88</text></g>
<g id="r13cm1" class="n" transform="translate(-12 693.6)"><use href="#b2"/></g>
<g id="r13c0" class="n" transform="translate(34 693.6)"><use href="#b2"/><text y="6.4">96</text></g>
<g id="r13c1" class="n" transform="translate(80 693.6)"><use href="#b2"/><text y="6.4">93</text></g>
<g id="r13c2" class="n" transform="translate(126 693.6)"><use href="#b2"/><text y="6.4">72</text></g>
<g id="r13c3" class="n" transform="translate(172 693.6)"><use href="#b2"/><text y="6.4">10</text></g>
<g id="r13c4" class="n" transform="translate(218 693.6)"><use href="#b2"/><text y="6.4">41</text></g>
<g id="r13c5" class="n" transform="translate(264 693.6)"><use href="#b1"/><text y="6.4">2</text></g>
<g id="r13c6" class="n" transform="translate(310 693.6)"><use href="#b3"/><text y="6.4">333</text></g>
<g id="r13c7" class="n" transform="translate(356 693.6)"><use href="#b2"/><text y="6.4">56</text></g>
<g id="r13c8" class="n" transform="translate(402 693.6)"><use href="#b2"/><text y="6.4">78</text></g>
<g id="r13c9" class="n" transform="translate(448 693.6)"><use href="#b2"/><text y="6.4">22</text></g>
<g id="r13c10" class="n" transform="translate(494 693.6)"><use href="#b3"/><text y="6.4">787</text></g>
<g id="r13c11" class="n" transform="translate(540 693.6)"><use href="#b2"/><text y="6.4">18</text></g>
<g id="r13c12" class="n" transform="translate(586 693.6)"><use href="#b2"/><text y="6.4">39</text></g>
<g id="r13c13" class="n" transform="translate(632 693.6)"><use href="#b2"/><text y="6.4">37</text></g>
<g id="r13c14" class="n" transform="translate(678 693.6)"><use href="#b2"/><text y="6.4">88</text></g>
<g id="r14cm1" class="n" transform="translate(-12 742.9)"><use href="#b2"/></g>
<g id="r14c0" class="n" transform="translate(34 742.9)"><use href="#b2"/><text y="6.4">72</text></g>
<g id="r14c1" class="n" transform="translate(80 742.9)"><use href="#b2"/><text y="6.4">41</text></g>
<g id="r14c2" class="n" transform="translate(126 742.9)"><use href="#b1"/><text y="6.4">2</text></g>
<g id="r14c3" class="n" transform="translate(172 742.9)"><use href="#b3"/><text y="6.4">333</text></g>
<g id="r14c4" class="n" transform="translate(218 742.9)"><use href="#b2"/><text y="6.4">56</text></g>
<g id="r14c5" class="n" transform="translate(264 742.9)"><use href="#b2"/><text y="6.4">78</text></g>
<g id="r14c6" class="n" transform="translate(310 742.9)"><use href="#b2"/><text y="6.4">22</text></g>
<g id="r14c7" class="n" transform="translate(356 742.9)"><use href="#b3"/><text y="6.4">719</text></g>
<g id="r14c8" class="n" transform="translate(402 742.9)"><use href="#b2"/><text y="6.4">28</text></g>
<g id="r14c9" class="n" transform="translate(448 742.9)"><use href="#b3"/><text y="6.4">787</text></g>
<g id="r14c10" class="n" transform="translate(494 742.9)"><use href="#b2"/><text y="6.4">18</text></g>
<g id="r14c11" class="n" transform="translate(540 742.9)"><use href="#b2"/><text y="6.4">39</text></g>
<g id="r14c12" class="n" transform="translate(586 742.9)"><use href="#b2"/><text y="6.4">96</text></g>
<g id="r14c13" class="n" transform="translate(632 742.9)"><use href="#b2"/><text y="6.4">37</text></g>
<g id="r14c14" class="n" transform="translate(678 742.9)"><use href="#b2"/><text y="6.4">88</text></g>
<g id="r15cm1" class="n" transform="translate(-12 792.2)"><use href="#b1"/></g>
<g id="r15c0" class="n" transform="translate(34 792.2)"><use href="#b3"/><text y="6.4">333</text></g>
<g id="r15c1" class="n" transform="translate(80 792.2)"><use href="#b2"/><text y="6.4">56</text></g>
<g id="r15c2" class="n" transform="translate(126 792.2)"><use href="#b2"/><text y="6.4">77</text></g>
<g id="r15c3" class="n" transform="translate(172 792.2)"><use href="#b2"/><text y="6.4">81</text></g>
<g id="r15c4" class="n" transform="translate(218 792.2)"><use href="#b2"/><text y="6.4">83</text></g>
<g id="r15c5" class="n" transform="translate(264 792.2)"><use href="#b2"/><text y="6.4">78</text></g>
<g id="r15c6" class="n" transform="translate(310 792.2)"><use href="#b2"/><text y="6.4">22</text></g>
<g id="r15c7" class="n" transform="translate(356 792.2)"><use href="#b3"/><text y="6.4">719</text></g>
<g id="r15c8" class="n" transform="translate(402 792.2)"><use href="#b2"/><text y="6.4">28</text></g>
<g id="r15c9" class="n" transform="translate(448 792.2)"><use href="#b3"/><text y="6.4">787</text></g>
<g id="r15c10" class="n" transform="translate(494 792.2)"><use href="#b2"/><text y="6.4">18</text></g>
<g id="r15c11" class="n" transform="translate(540 792.2)"><use href="#b2"/><text y="6.4">39</text></g>
<g id="r15c12" class="n" transform="translate(586 792.2)"><use href="#b2"/><text y="6.4">96</text></g>
<g id="r15c13" class="n" transform="translate(632 792.2)"><use href="#b2"/><text y="6.4">37</text></g>
<g id="r15c14" class="n" transform="translate(678 792.2)"><use href="#b2"/><text y="6.4">88</text></g>
<g id="r16cm1" class="n" transform="translate(-12 841.5)"><use href="#b2"/></g>
<g id="r16c0" class="n" transform="translate(34 841.5)"><use href="#b3"/><text y="6.4">333</text></g>
<g id="r16c1" class="n" transform="translate(80 841.5)"><use href="#b2"/><text y="6.4">11</text></g>
<g id="r16c2" class="n" transform="translate(126 841.5)"><use href="#b2"/><text y="6.4">77</text></g>
<g id="r16c3" class="n" transform="translate(172 841.5)"><use href="#b2"/><text y="6.4">81</text></g>
<g id="r16c4" class="n" transform="translate(218 841.5)"><use href="#b2"/><text y="6.4">83</text></g>
<g id="r16c5" class="n" transform="translate(264 841.5)"><use href="#b2"/><text y="6.4">78</text></g>
<g id="r16c6" class="n" transform="translate(310 841.5)"><use href="#b2"/><text y="6.4">22</text></g>
<g id="r16c7" class="n" transform="translate(356 841.5)"><use href="#b3"/><text y="6.4">719</text></g>
<g id="r16c8" class="n" transform="translate(402 841.5)"><use href="#b2"/><text y="6.4">28</text></g>
<g id="r16c9" class="n" transform="translate(448 841.5)"><use href="#b3"/><text y="6.4">787</text></g>
<g id="r16c10" class="n" transform="translate(494 841.5)"><use href="#b2"/><text y="6.4">18</text></g>
<g id="r16c11" class="n" transform="translate(540 841.5)"><use href="#b2"/><text y="6.4">39</text></g>
<g id="r16c12" class="n" transform="translate(586 841.5)"><use href="#b2"/><text y="6.4">96</text></g>
<g id="r16c13" class="n" transform="translate(632 841.5)"><use href="#b2"/><text y="6.4">37</text></g>
<g id="r16c14" class="n" transform="translate(678 841.5)"><use href="#b2"/><text y="6.4">88</text></g>
<g id="r17cm1" class="n" transform="translate(-12 890.8)"><use href="#b2"/></g>
<g id="r17c0" class="n" transform="translate(34 890.8)"><use href="#b2"/><text y="6.4">11</text></g>
<g id="r17c1" class="n" transform="translate(80 890.8)"><use href="#b2"/><text y="6.4">27</text></g>
<g id="r17c2" class="n" transform="translate(126 890.8)"><use href="#b2"/><text y="6.4">83</text></g>
<g id="r17c3" class="n" transform="translate(172 890.8)"><use href="#b2"/><text y="6.4">81</text></g>
<g id="r17c4" class="n" transform="translate(218 890.8)"><use href="#b2"/><text y="6.4">78</text></g>
<g id="r17c5" class="n" transform="translate(264 890.8)"><use href="#b2"/><text y="6.4">22</text></g>
<g id="r17c6" class="n" transform="translate(310 890.8)"><use href="#b3"/><text y="6.4">719</text></g>
<g id="r17c7" class="n" transform="translate(356 890.8)"><use href="#b2"/><text y="6.4">28</text></g>
<g id="r17c8" class="n" transform="translate(402 890.8)"><use href="#b3"/><text y="6.4">787</text></g>
<g id="r17c9" class="n" transform="translate(448 890.8)"><use href="#b2"/><text y="6.4">18</text></g>
<g id="r17c10" class="n" transform="translate(494 890.8)"><use href="#b2"/><text y="6.4">39</text></g>
<g id="r17c11" class="n" transform="translate(540 890.8)"><use href="#b2"/><text y="6.4">96</text></g>
<g id="r17c12" class="n" transform="translate(586 890.8)"><use href="#b2"/><text y="6.4">72</text></g>
<g id="r17c13" class="n" transform="translate(632 890.8)"><use href="#b2"/><text y="6.4">37</text></g>
<g id="r17c14" class="n" transform="translate(678 890.8)"><use href="#b2"/><text y="6.4">88</text></g>
<g id="r18cm1" class="n" transform="translate(-12 940)"><use href="#b2"/></g>
<g id="r18c0" class="n" transform="translate(34 940)"><use href="#b2"/><text y="6.4">11</text></g>
<g id="r18c1" class="n" transform="translate(80 940)"><use href="#b2"/><text y="6.4">27</text></g>
<g id="r18c2" class="n" transform="translate(126 940)"><use href="#b2"/><text y="6.4">83</text></g>
<g id="r18c3" class="n" transform="translate(172 940)"><use href="#b2"/><text y="6.4">81</text></g>
<g id="r18c4" class="n" transform="translate(218 940)"><use href="#b2"/><text y="6.4">78</text></g>
<g id="r18c5" class="n" transform="translate(264 940)"><use href="#b2"/><text y="6.4">22</text></g>
<g id="r18c6" class="n" transform="translate(310 940)"><use href="#b3"/><text y="6.4">719</text></g>
<g id="r18c7" class="n" transform="translate(356 940)"><use href="#b2"/><text y="6.4">28</text></g>
<g id="r18c8" class="n" transform="translate(402 940)"><use href="#b3"/><text y="6.4">787</text></g>
<g id="r18c9" class="n" transform="translate(448 940)"><use href="#b2"/><text y="6.4">18</text></g>
<g id="r18c10" class="n" transform="translate(494 940)"><use href="#b2"/><text y="6.4">39</text></g>
<g id="r18c11" class="n" transform="translate(540 940)"><use href="#b2"/><text y="6.4">96</text></g>
<g id="r18c12" class="n" transform="translate(586 940)"><use href="#b2"/><text y="6.4">72</text></g>
<g id="r18c13" class="n" transform="translate(632 940)"><use href="#b2"/><text y="6.4">37</text></g>
<g id="r18c14" class="n" transform="translate(678 940)"><use href="#b2"/><text y="6.4">88</text></g>
<g id="r19cm1" class="n" transform="translate(-12 989.3)"><use href="#b2"/></g>
<g id="r19c0" class="n" transform="translate(34 989.3)"><use href="#b2"/><text y="6.4">83</text></g>
<g id="r19c1" class="n" transform="translate(80 989.3)"><use href="#b2"/><text y="6.4">81</text></g>
<g id="r19c2" class="n" transform="translate(126 989.3)"><use href="#b2"/><text y="6.4">78</text></g>
<g id="r19c3" class="n" transform="translate(172 989.3)"><use href="#b2"/><text y="6.4">22</text></g>
<g id="r19c4" class="n" transform="translate(218 989.3)"><use href="#b3"/><text y="6.4">719</text></g>
<g id="r19c5" class="n" transform="translate(264 989.3)"><use href="#b2"/><text y="6.4">28</text></g>
<g id="r19c6" class="n" transform="translate(310 989.3)"><use href="#b3"/><text y="6.4">787</text></g>
<g id="r19c7" class="n" transform="translate(356 989.3)"><use href="#b2"/><text y="6.4">18</text></g>
<g id="r19c8" class="n" transform="translate(402 989.3)"><use href="#b2"/><text y="6.4">39</text></g>
<g id="r19c9" class="n" transform="translate(448 989.3)"><use href="#b2"/><text y="6.4">96</text></g>
<g id="r19c10" class="n" transform="translate(494 989.3)"><use href="#b2"/><text y="6.4">72</text></g>
<g id="r19c11" class="n" transform="translate(540 989.3)"><use href="#b2"/><text y="6.4">37</text></g>
<g id="r19c12" class="n" transform="translate(586 989.3)"><use href="#b2"/><text y="6.4">88</text></g>
<g id="r19c13" class="n" transform="translate(632 989.3)"><use href="#b2"/><text y="6.4">61</text></g>
<g id="r20cm1" class="n" transform="translate(-12 1038.6)"><use href="#b2"/></g>
<g id="r20c0" class="n" transform="translate(34 1038.6)"><use href="#b2"/><text y="6.4">78</text></g>
<g id="r20c1" class="n" transform="translate(80 1038.6)"><use href="#b2"/><text y="6.4">11</text></g>
<g id="r20c2" class="n" transform="translate(126 1038.6)"><use href="#b3"/><text y="6.4">719</text></g>
<g id="r20c3" class="n" transform="translate(172 1038.6)"><use href="#b2"/><text y="6.4">83</text></g>
<g id="r20c4" class="n" transform="translate(218 1038.6)"><use href="#b2"/><text y="6.4">22</text></g>
<g id="r20c5" class="n" transform="translate(264 1038.6)"><use href="#b2"/><text y="6.4">28</text></g>
<g id="r20c6" class="n" transform="translate(310 1038.6)"><use href="#b3"/><text y="6.4">787</text></g>
<g id="r20c7" class="n" transform="translate(356 1038.6)"><use href="#b2"/><text y="6.4">18</text></g>
<g id="r20c8" class="n" transform="translate(402 1038.6)"><use href="#b2"/><text y="6.4">39</text></g>
<g id="r20c9" class="n" transform="translate(448 1038.6)"><use href="#b2"/><text y="6.4">96</text></g>
<g id="r20c10" class="n" transform="translate(494 1038.6)"><use href="#b2"/><text y="6.4">72</text></g>
<g id="r20c11" class="n" transform="translate(540 1038.6)"><use href="#b2"/><text y="6.4">37</text></g>
<g id="r20c12" class="n" transform="translate(586 1038.6)"><use href="#b2"/><text y="6.4">88</text></g>
<g id="r20c13" class="n" transform="translate(632 1038.6)"><use href="#b2"/><text y="6.4">61</text></g>
<g id="r21cm1" class="n" transform="translate(-12 1087.9)"><use href="#b3"/></g>
<g id="r21c0" class="n" transform="translate(34 1087.9)"><use href="#b2"/><text y="6.4">81</text></g>
<g id="r21c1" class="n" transform="translate(80 1087.9)"><use href="#b2"/><text y="6.4">78</text></g>
<g id="r21c2" class="n" transform="translate(126 1087.9)"><use href="#b2"/><text y="6.4">22</text></g>
<g id="r21c3" class="n" transform="translate(172 1087.9)"><use href="#b2"/><text y="6.4">83</text></g>
<g id="r21c4" class="n" transform="translate(218 1087.9)"><use href="#b2"/><text y="6.4">28</text></g>
<g id="r21c5" class="n" transform="translate(264 1087.9)"><use href="#b2"/><text y="6.4">11</text></g>
<g id="r21c6" class="n" transform="translate(310 1087.9)"><use href="#b3"/><text y="6.4">787</text></g>
<g id="r21c7" class="n" transform="translate(356 1087.9)"><use href="#b2"/><text y="6.4">18</text></g>
<g id="r21c8" class="n" transform="translate(402 1087.9)"><use href="#b2"/><text y="6.4">39</text></g>
<g id="r21c9" class="n" transform="translate(448 1087.9)"><use href="#b2"/><text y="6.4">96</text></g>
<g id="r21c10" class="n" transform="translate(494 1087.9)"><use href="#b2"/><text y="6.4">72</text></g>
<g id="r21c11" class="n" transform="translate(540 1087.9)"><use href="#b2"/><text y="6.4">37</text></g>
<g id="r21c12" class="n" transform="translate(586 1087.9)"><use href="#b2"/><text y="6.4">88</text></g>
<g id="r21c13" class="n" transform="translate(632 1087.9)"><use href="#b2"/><text y="6.4">61</text></g>
<g id="r22cm1" class="n" transform="translate(-12 1137.2)"><use href="#b2"/></g>
<g id="r22c0" class="n" transform="translate(34 1137.2)"><use href="#b2"/><text y="6.4">78</text></g>
<g id="r22c1" class="n" transform="translate(80 1137.2)"><use href="#b2"/><text y="6.4">22</text></g>
<g id="r22c2" class="n" transform="translate(126 1137.2)"><use href="#b2"/><text y="6.4">28</text></g>
<g id="r22c3" class="n" transform="translate(172 1137.2)"><use href="#b2"/><text y="6.4">83</text></g>
<g id="r22c4" class="n" transform="translate(218 1137.2)"><use href="#b3"/><text y="6.4">102</text></g>
<g id="r22c5" class="n" transform="translate(264 1137.2)"><use href="#b2"/><text y="6.4">11</text></g>
<g id="r22c6" class="n" transform="translate(310 1137.2)"><use href="#b3"/><text y="6.4">787</text></g>
<g id="r22c7" class="n" transform="translate(356 1137.2)"><use href="#b2"/><text y="6.4">18</text></g>
<g id="r22c8" class="n" transform="translate(402 1137.2)"><use href="#b2"/><text y="6.4">39</text></g>
<g id="r22c9" class="n" transform="translate(448 1137.2)"><use href="#b2"/><text y="6.4">96</text></g>
<g id="r22c10" class="n" transform="translate(494 1137.2)"><use href="#b2"/><text y="6.4">72</text></g>
<g id="r22c11" class="n" transform="translate(540 1137.2)"><use href="#b2"/><text y="6.4">37</text></g>
<g id="r22c12" class="n" transform="translate(586 1137.2)"><use href="#b2"/><text y="6.4">88</text></g>
<g id="r22c13" class="n" transform="translate(632 1137.2)"><use href="#b2"/><text y="6.4">61</text></g>
<g id="r23cm1" class="n" transform="translate(-12 1186.4)"><use href="#b2"/></g>
<g id="r23c0" class="n" transform="translate(34 1186.4)"><use href="#b2"/><text y="6.4">78</text></g>
<g id="r23c1" class="n" transform="translate(80 1186.4)"><use href="#b2"/><text y="6.4">22</text></g>
<g id="r23c2" class="n" transform="translate(126 1186.4)"><use href="#b2"/><text y="6.4">28</text></g>
<g id="r23c3" class="n" transform="translate(172 1186.4)"><use href="#b2"/><text y="6.4">83</text></g>
<g id="r23c4" class="n" transform="translate(218 1186.4)"><use href="#b3"/><text y="6.4">102</text></g>
<g id="r23c5" class="n" transform="translate(264 1186.4)"><use href="#b2"/><text y="6.4">11</text></g>
<g id="r23c6" class="n" transform="translate(310 1186.4)"><use href="#b2"/><text y="6.4">18</text></g>
<g id="r23c7" class="n" transform="translate(356 1186.4)"><use href="#b3"/><text y="6.4">787</text></g>
<g id="r23c8" class="n" transform="translate(402 1186.4)"><use href="#b2"/><text y="6.4">39</text></g>
<g id="r23c9" class="n" transform="translate(448 1186.4)"><use href="#b2"/><text y="6.4">96</text></g>
<g id="r23c10" class="n" transform="translate(494 1186.4)"><use href="#b2"/><text y="6.4">72</text></g>
<g id="r23c11" class="n" transform="translate(540 1186.4)"><use href="#b2"/><text y="6.4">37</text></g>
<g id="r23c12" class="n" transform="translate(586 1186.4)"><use href="#b2"/><text y="6.4">88</text></g>
<g id="r23c13" class="n" transform="translate(632 1186.4)"><use href="#b2"/><text y="6.4">61</text></g>
<g id="r24cm1" class="n" transform="translate(-12 1235.7)"><use href="#b2"/></g>
<g id="r24c0" class="n" transform="translate(34 1235.7)"><use href="#b2"/><text y="6.4">78</text></g>
<g id="r24c1" class="n" transform="translate(80 1235.7)"><use href="#b2"/><text y="6.4">28</text></g>
<g id="r24c2" class="n" transform="translate(126 1235.7)"><use href="#b2"/><text y="6.4">83</text></g>
<g id="r24c3" class="n" transform="translate(172 1235.7)"><use href="#b3"/><text y="6.4">102</text></g>
<g id="r24c4" class="n k" transform="translate(218 1235.7)"><use href="#b2"/><text y="6.4">86</text></g>
<g id="r24c5" class="n" transform="translate(264 1235.7)"><use href="#b2"/><text y="6.4">11</text></g>
<g id="r24c6" class="n" transform="translate(310 1235.7)"><use href="#b2"/><text y="6.4">18</text></g>
<g id="r24c7" class="n" transform="translate(356 1235.7)"><use href="#b3"/><text y="6.4">787</text></g>
<g id="r24c8" class="n" transform="translate(402 1235.7)"><use href="#b2"/><text y="6.4">39</text></g>
<g id="r24c9" class="n" transform="translate(448 1235.7)"><use href="#b2"/><text y="6.4">96</text></g>
<g id="r24c10" class="n" transform="translate(494 1235.7)"><use href="#b2"/><text y="6.4">72</text></g>
<g id="r24c11" class="n" transform="translate(540 1235.7)"><use href="#b2"/><text y="6.4">37</text></g>
<g id="r24c12" class="n" transform="translate(586 1235.7)"><use href="#b2"/><text y="6.4">88</text></g>
<g id="r24c13" class="n" transform="translate(632 1235.7)"><use href="#b2"/><text y="6.4">61</text></g>
<g id="r25cm1" class="n" transform="translate(-12 1285)"><use href="#b2"/></g>
<g id="r25c0" class="n" transform="translate(34 1285)"><use href="#b3"/><text y="6.4">102</text></g>
<g id="r25c1" class="n" transform="translate(80 1285)"><use href="#b2"/><text y="6.4">83</text></g>
<g id="r25c2" class="n k" transform="translate(126 1285)"><use href="#b2"/><text y="6.4">86</text></g>
<g id="r25c3" class="n" transform="translate(172 1285)"><use href="#b2"/><text y="6.4">11</text></g>
<g id="r25c4" class="n" transform="translate(218 1285)"><use href="#b2"/><text y="6.4">18</text></g>
<g id="r25c5" class="n" transform="translate(264 1285)"><use href="#b2"/><text y="6.4">15</text></g>
<g id="r25c6" class="n" transform="translate(310 1285)"><use href="#b3"/><text y="6.4">787</text></g>
<g id="r25c7" class="n" transform="translate(356 1285)"><use href="#b2"/><text y="6.4">39</text></g>
<g id="r25c8" class="n" transform="translate(402 1285)"><use href="#b2"/><text y="6.4">96</text></g>
<g id="r25c9" class="n" transform="translate(448 1285)"><use href="#b2"/><text y="6.4">72</text></g>
<g id="r25c10" class="n" transform="translate(494 1285)"><use href="#b2"/><text y="6.4">78</text></g>
<g id="r25c11" class="n" transform="translate(540 1285)"><use href="#b2"/><text y="6.4">37</text></g>
<g id="r25c12" class="n" transform="translate(586 1285)"><use href="#b2"/><text y="6.4">88</text></g>
<g id="r25c13" class="n" transform="translate(632 1285)"><use href="#b2"/><text y="6.4">61</text></g>
<g id="r26cm1" class="n" transform="translate(-12 1334.3)"><use href="#b3"/></g>
<g id="r26c0" class="n" transform="translate(34 1334.3)"><use href="#b2"/><text y="6.4">83</text></g>
<g id="r26c1" class="n k" transform="translate(80 1334.3)"><use href="#b2"/><text y="6.4">86</text></g>
<g id="r26c2" class="n" transform="translate(126 1334.3)"><use href="#b2"/><text y="6.4">11</text></g>
<g id="r26c3" class="n" transform="translate(172 1334.3)"><use href="#b2"/><text y="6.4">18</text></g>
<g id="r26c4" class="n" transform="translate(218 1334.3)"><use href="#b2"/><text y="6.4">15</text></g>
<g id="r26c5" class="n" transform="translate(264 1334.3)"><use href="#b3"/><text y="6.4">787</text></g>
<g id="r26c6" class="n" transform="translate(310 1334.3)"><use href="#b2"/><text y="6.4">39</text></g>
<g id="r26c7" class="n" transform="translate(356 1334.3)"><use href="#b2"/><text y="6.4">96</text></g>
<g id="r26c8" class="n" transform="translate(402 1334.3)"><use href="#b2"/><text y="6.4">72</text></g>
<g id="r26c9" class="n" transform="translate(448 1334.3)"><use href="#b2"/><text y="6.4">78</text></g>
<g id="r26c10" class="n" transform="translate(494 1334.3)"><use href="#b2"/><text y="6.4">37</text></g>
<g id="r26c11" class="n" transform="translate(540 1334.3)"><use href="#b2"/><text y="6.4">88</text></g>
<g id="r26c12" class="n" transform="translate(586 1334.3)"><use href="#b2"/><text y="6.4">61</text></g>
<g id="r27cm1" class="n" transform="translate(-12 1383.6)"><use href="#b2"/></g>
<g id="r27c0" class="n k" transform="translate(34 1383.6)"><use href="#b2"/><text y="6.4">86</text></g>
<g id="r27c1" class="n" transform="translate(80 1383.6)"><use href="#b2"/><text y="6.4">77</text></g>
<g id="r27c2" class="n" transform="translate(126 1383.6)"><use href="#b2"/><text y="6.4">11</text></g>
<g id="r27c3" class="n" transform="translate(172 1383.6)"><use href="#b2"/><text y="6.4">18</text></g>
<g id="r27c4" class="n" transform="translate(218 1383.6)"><use href="#b2"/><text y="6.4">15</text></g>
<g id="r27c5" class="n" transform="translate(264 1383.6)"><use href="#b3"/><text y="6.4">787</text></g>
<g id="r27c6" class="n" transform="translate(310 1383.6)"><use href="#b2"/><text y="6.4">39</text></g>
<g id="r27c7" class="n" transform="translate(356 1383.6)"><use href="#b2"/><text y="6.4">96</text></g>
<g id="r27c8" class="n" transform="translate(402 1383.6)"><use href="#b2"/><text y="6.4">72</text></g>
<g id="r27c9" class="n" transform="translate(448 1383.6)"><use href="#b2"/><text y="6.4">78</text></g>
<g id="r27c10" class="n" transform="translate(494 1383.6)"><use href="#b2"/><text y="6.4">37</text></g>
<g id="r27c11" class="n" transform="translate(540 1383.6)"><use href="#b2"/><text y="6.4">88</text></g>
<g id="r27c12" class="n" transform="translate(586 1383.6)"><use href="#b2"/><text y="6.4">61</text></g>
<g id="r28cm1" class="n" transform="translate(-12 1432.8)"><use href="#b2"/></g>
<g id="r28c0" class="n k" transform="translate(34 1432.8)"><use href="#b2"/><text y="6.4">86</text></g>
<g id="r28c1" class="n" transform="translate(80 1432.8)"><use href="#b2"/><text y="6.4">77</text></g>
<g id="r28c2" class="n" transform="translate(126 1432.8)"><use href="#b2"/><text y="6.4">11</text></g>
<g id="r28c3" class="n" transform="translate(172 1432.8)"><use href="#b2"/><text y="6.4">18</text></g>
<g id="r28c4" class="n" transform="translate(218 1432.8)"><use href="#b2"/><text y="6.4">15</text></g>
<g id="r28c5" class="n" transform="translate(264 1432.8)"><use href="#b3"/><text y="6.4">787</text></g>
<g id="r28c6" class="n" transform="translate(310 1432.8)"><use href="#b2"/><text y="6.4">39</text></g>
<g id="r28c7" class="n" transform="translate(356 1432.8)"><use href="#b2"/><text y="6.4">96</text></g>
<g id="r28c8" class="n" transform="translate(402 1432.8)"><use href="#b2"/><text y="6.4">72</text></g>
<g id="r28c9" class="n" transform="translate(448 1432.8)"><use href="#b2"/><text y="6.4">78</text></g>
<g id="r28c10" class="n" transform="translate(494 1432.8)"><use href="#b2"/><text y="6.4">37</text></g>
<g id="r28c11" class="n" transform="translate(540 1432.8)"><use href="#b2"/><text y="6.4">88</text></g>
<g id="r28c12" class="n" transform="translate(586 1432.8)"><use href="#b2"/><text y="6.4">61</text></g>
<g id="r29cm1" class="n k" transform="translate(-12 1482.1)"><use href="#b2"/></g>
<g id="r29c0" class="n" transform="translate(34 1482.1)"><use href="#b2"/><text y="6.4">77</text></g>
<g id="r29c1" class="n" transform="translate(80 1482.1)"><use href="#b2"/><text y="6.4">11</text></g>
<g id="r29c2" class="n" transform="translate(126 1482.1)"><use href="#b2"/><text y="6.4">18</text></g>
<g id="r29c3" class="n" transform="translate(172 1482.1)"><use href="#b2"/><text y="6.4">15</text></g>
<g id="r29c4" class="n" transform="translate(218 1482.1)"><use href="#b3"/><text y="6.4">787</text></g>
<g id="r29c5" class="n" transform="translate(264 1482.1)"><use href="#b2"/><text y="6.4">39</text></g>
<g id="r29c6" class="n" transform="translate(310 1482.1)"><use href="#b2"/><text y="6.4">96</text></g>
<g id="r29c7" class="n" transform="translate(356 1482.1)"><use href="#b2"/><text y="6.4">72</text></g>
<g id="r29c8" class="n" transform="translate(402 1482.1)"><use href="#b2"/><text y="6.4">78</text></g>
<g id="r29c9" class="n" transform="translate(448 1482.1)"><use href="#b2"/><text y="6.4">37</text></g>
<g id="r29c10" class="n" transform="translate(494 1482.1)"><use href="#b2"/><text y="6.4">88</text></g>
<g id="r29c11" class="n" transform="translate(540 1482.1)"><use href="#b2"/><text y="6.4">61</text></g>
</g>
</svg>
